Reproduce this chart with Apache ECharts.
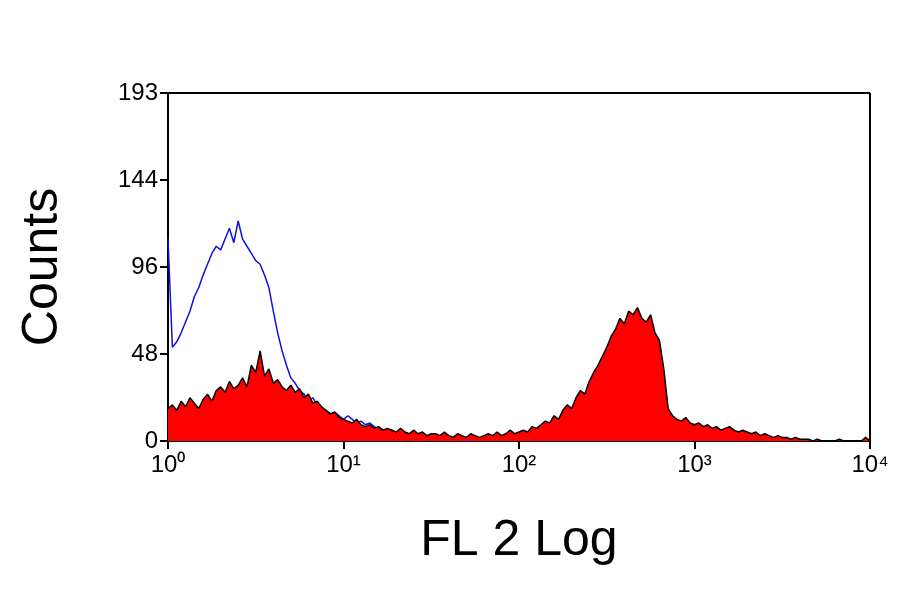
<!DOCTYPE html>
<html><head><meta charset="utf-8">
<script src="https://cdn.jsdelivr.net/npm/echarts@6/dist/echarts.min.js"></script>
<style>html,body{margin:0;padding:0;background:#fff}#c{width:900px;height:594px}</style>
</head><body><div id="c"></div>
<script>
const step = 0.025; // log10 decade step between channels
const redCounts = [18,20,17,22,19,24,21,18,23,26,22,
28,30,27,33,29,31,35,30,42,38,
50,36,40,32,34,30,28,31,27,29,
24,26,21,22,19,17,15,16,13,12,
11,10,12,9,8,9,7,8,6,7,
6,5,7,5,4,6,4,5,3,4,
4,3,5,3,2,4,3,2,4,3,
2,3,4,3,5,3,4,6,4,5,
6,5,8,7,9,11,10,14,12,17,
20,18,24,28,26,33,38,42,47,52,
58,62,68,65,72,70,74,68,66,70,
60,56,40,18,14,12,11,13,10,9,
10,8,9,7,8,6,7,8,6,5,
6,5,4,5,3,4,3,2,3,2,
2,1,2,1,1,1,0,1,0,0,
0,0,1,0,0,0,0,0,2,0];
const blueCounts = [112,52,55,60,66,72,80,85,92,98,104,
108,106,112,118,110,122,112,108,104,100,
98,92,85,72,60,50,42,35,32,28,
26,22,24,20,18,17,15,16,14,12,
14,12,10,11,9,10,8,7,6,5,
6,4,5,3,4,3,2,3,2,1,
2,1,1,2,1,0,1,0,0,0];
const xTickLabels = ['10⁰','10¹','10²','10³','10⁴'];
const yTicks = [0,48,96,144,193];

const red = redCounts.map((v,i)=>[i*step, v]);
const blue = blueCounts.map((v,i)=>[i*step, v]);
const chart = echarts.init(document.getElementById('c'));
chart.setOption({
  animation:false,
  grid:{left:168,right:30,top:93,bottom:153},
  xAxis:{type:'value',min:0,max:4,interval:1,
    axisLine:{show:true,onZero:false,lineStyle:{color:'#000',width:2}},
    axisTick:{show:true,length:8,lineStyle:{color:'#000',width:2}},
    splitLine:{show:false},
    axisLabel:{color:'#000',fontSize:24,fontFamily:'Arial, Liberation Sans',margin:12,formatter:v=>xTickLabels[Math.round(v)]},
    name:'FL 2 Log',nameLocation:'middle',nameGap:75,
    nameTextStyle:{color:'#000',fontSize:50,fontFamily:'Arial, Liberation Sans'}},
  yAxis:{type:'value',min:0,max:193,interval:48.25,
    axisLine:{show:true,lineStyle:{color:'#000',width:2}},
    axisTick:{show:true,length:8,lineStyle:{color:'#000',width:2}},
    splitLine:{show:false},
    axisLabel:{color:'#000',fontSize:24,fontFamily:'Arial, Liberation Sans',margin:10,showMaxLabel:true,formatter:v=>String(yTicks[Math.round(v/48.25)])},
    name:'Counts',nameLocation:'middle',nameGap:100,
    nameTextStyle:{color:'#000',fontSize:50,fontFamily:'Arial, Liberation Sans'}},
  series:[
    {type:'line',data:blue,showSymbol:false,lineStyle:{color:'#1010e0',width:1.5},z:2},
    {type:'line',data:red,showSymbol:false,lineStyle:{color:'#000',width:1.5},areaStyle:{color:'#ff0000',opacity:1},z:3},
    {type:'line',data:[[0,193],[4,193]],showSymbol:false,silent:true,lineStyle:{color:'#000',width:2},z:4},
    {type:'line',data:[[4,0],[4,193]],showSymbol:false,silent:true,lineStyle:{color:'#000',width:2},z:4}
  ]
});
</script></body></html>
